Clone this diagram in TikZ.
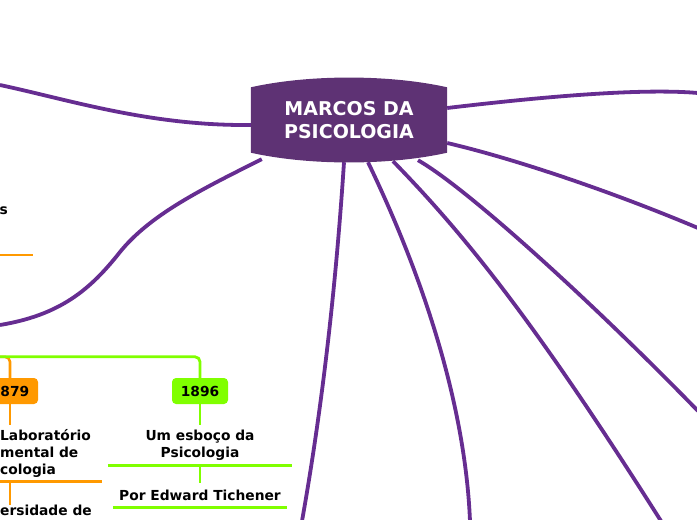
\documentclass[tikz,border=0pt]{standalone}
\usepackage{fontspec}
\setmainfont{DejaVu Sans}
\usepackage{xcolor}
\usepackage{tikz}
\usetikzlibrary{calc,backgrounds,positioning}
\definecolor{MarcosFill}{RGB}{94,50,116}
\definecolor{MarcosLine}{RGB}{102,45,145}
\definecolor{OrangeBranch}{RGB}{255,153,0}
\definecolor{GreenBranch}{RGB}{128,255,0}

\begin{document}
\begin{tikzpicture}[x=1pt,y=-1pt,
    mainline/.style={MarcosLine,line width=3.8pt},
    orangeline/.style={OrangeBranch,line width=2.6pt},
    greenline/.style={GreenBranch,line width=2.8pt},
    yearbox/.style={rounded corners=4pt,minimum width=56pt,minimum height=26pt,
                    inner sep=0pt,font=\fontsize{13.8}{17}\selectfont\bfseries},
    topic/.style={inner sep=0pt,align=center,
                  font=\fontsize{13.8}{17}\selectfont\bfseries}]
        \useasboundingbox (0,0) rectangle (697,520);
        \clip (0,0) rectangle (697,520);
        \node[white,inner sep=0pt,minimum width=196pt,minimum height=65pt,align=center,
              font=\fontsize{19}{23}\selectfont\bfseries]
          (marcos) at (349,120) {MARCOS DA\\PSICOLOGIA};
        \coordinate (ramo1) at (0,85);
        \coordinate (ramo2) at (0,325);
        \coordinate (ramo3) at (302,521);
        \coordinate (ramo4) at (470,521);
        \coordinate (ramo5) at (661,521);
        \coordinate (ramo6) at (698,411);
        \coordinate (ramo7) at (698,228);
        \coordinate (ramo8) at (698,93);
        \begin{scope}[on background layer]
          \draw[mainline] ($(marcos.west)+(0,5)$)
            .. controls (150,126) and (70,100) .. (ramo1);
          \draw[mainline] ($(marcos.south west)+(11,6.5)$)
            .. controls (200,190) and (150,215) .. (120,252)
            .. controls (90,290) and (60,315) .. (ramo2);
          \draw[mainline] ($(marcos.south)+(-5,9.5)$)
            .. controls (335,300) and (320,420) .. (ramo3);
          \draw[mainline] ($(marcos.south)+(19,9.5)$)
            .. controls (420,270) and (465,400) .. (ramo4);
          \draw[mainline] ($(marcos.south)+(44,8.5)$)
            .. controls (470,240) and (540,330) .. (ramo5);
          \draw[mainline] ($(marcos.south)+(69,7.5)$)
            .. controls (470,190) and (600,310) .. (ramo6);
          \draw[mainline] ($(marcos.east)+(0,23)$)
            .. controls (520,160) and (620,195) .. (ramo7);
          \draw[mainline] ($(marcos.east)+(0,-12)$)
            .. controls (540,97) and (640,88) .. (ramo8);
          \fill[MarcosFill] (marcos.north west)
            .. controls ($(marcos.north west)+(58,-13)$) and ($(marcos.north east)+(-58,-13)$) .. (marcos.north east)
            -- (marcos.south east)
            .. controls ($(marcos.south east)+(-58,13)$) and ($(marcos.south west)+(58,13)$) .. (marcos.south west)
            -- cycle;
        \end{scope}
        \node[topic,anchor=west] (cauda) at (-0.5,210.5) {s};
        \draw[orangeline] (0,255) -- (33,255);
        \node[yearbox,fill=OrangeBranch] (y1879) at (10,391) {1879};
        \node[yearbox,fill=GreenBranch] (y1896) at (200,391) {1896};
        \draw[orangeline,rounded corners=5pt] (y1879.north) -- ++(0,-21) -- ++(-25,0);
        \draw[greenline,rounded corners=5pt] (y1896.north) -- ++(0,-21) -- ++(-215,0);
        \node[topic,align=left,text width=102pt,minimum height=56pt,anchor=west]
          (laboratorio) at (0,453) {Laboratório\\mental de\\cologia};
        \node[topic,align=left,anchor=north west] (universidade) at (0,505) {ersidade de};
        \node[topic,minimum width=184pt,minimum height=40pt] (esboco) at (200,445)
          {Um esboço da\\Psicologia};
        \node[topic,minimum width=174pt,minimum height=24pt] (tichener) at (200,495)
          {Por Edward Tichener};
        \draw[orangeline] (y1879.south) -- (y1879.south |- laboratorio.north);
        \draw[orangeline] (laboratorio.south west) -- (laboratorio.south east);
        \draw[orangeline] (y1879.south |- laboratorio.south) -- (y1879.south |- universidade.north);
        \draw[greenline] (y1896.south) -- (esboco.north);
        \draw[greenline] (esboco.south west) -- (esboco.south east);
        \draw[greenline] (esboco.south) -- (tichener.north);
        \draw[greenline] (tichener.south west) -- (tichener.south east);
\end{tikzpicture}
\end{document}
